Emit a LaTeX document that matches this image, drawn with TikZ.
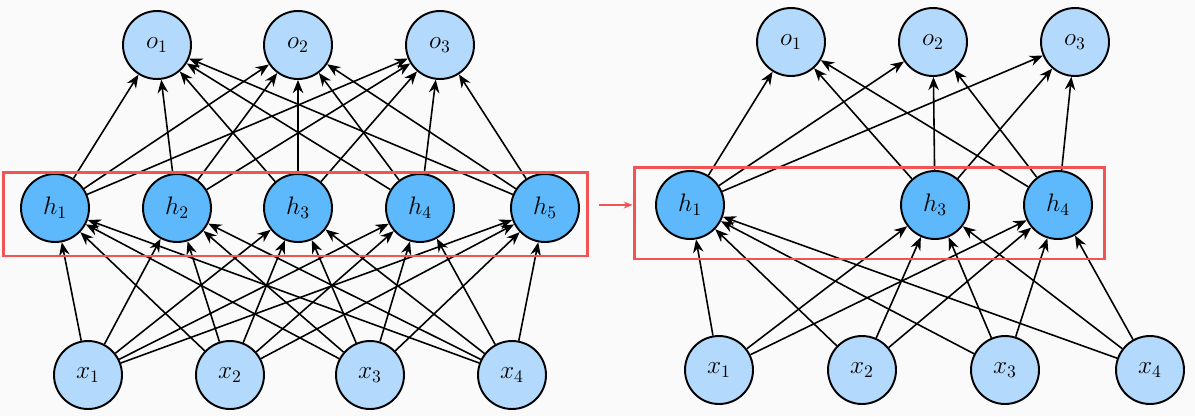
\documentclass[tikz,border=0pt]{standalone}
\usetikzlibrary{arrows.meta}

\definecolor{paper}{HTML}{FAFAFA}
\definecolor{lightunit}{HTML}{B3DAFD}
\definecolor{darkunit}{HTML}{5DB9FC}
\definecolor{dropred}{HTML}{F25454}

\tikzset{
    unit/.style={circle, draw, line width=1.1pt, minimum size=1.36cm, inner sep=0pt,
        font=\fontsize{14.5}{17}\selectfont},
    inout/.style={unit, fill=lightunit},
    hidden/.style={unit, fill=darkunit},
    conn/.style={-{Stealth[length=7.5pt,width=6pt]}, line width=0.9pt},
    selbox/.style={draw=dropred, line width=1.7pt, inner sep=0pt},
    droparrow/.style={dropred, line width=0.7pt, -{Stealth[length=5pt,width=4pt]}}
}

\begin{document}
\begin{tikzpicture}[x=0.02cm, y=-0.02cm]
    \fill[paper] (0,0) rectangle (1195,416);
    \useasboundingbox (0,0) rectangle (1195,416);

    % Full network
    \foreach \i/\x in {1/157, 2/298, 3/440}
        \node[inout] (lo\i) at (\x,45) {$o_\i$};
    \foreach \i/\x in {1/55, 2/177, 3/298, 4/420, 5/545}
        \node[hidden] (lh\i) at (\x,208) {$h_\i$};
    \foreach \i/\x in {1/88, 2/230, 3/370, 4/512}
        \node[inout] (lx\i) at (\x,375) {$x_\i$};

    \foreach \i in {1,...,4}
        \foreach \j in {1,...,5}
            \draw[conn] (lx\i) -- (lh\j);
    \foreach \j in {1,...,5}
        \foreach \k in {1,2,3}
            \draw[conn] (lh\j) -- (lo\k);

    \node[selbox, minimum width=11.7cm, minimum height=1.68cm] (lbox) at (295.5,214) {};

    % Network with dropout
    \foreach \i/\x in {1/791, 2/933, 3/1075}
        \node[inout] (ro\i) at (\x,42) {$o_\i$};
    \foreach \i/\x in {1/690, 3/935, 4/1058}
        \node[hidden] (rh\i) at (\x,205) {$h_\i$};
    \foreach \i/\x in {1/719, 2/862, 3/1005, 4/1150}
        \node[inout] (rx\i) at (\x,370) {$x_\i$};

    \foreach \i in {1,...,4}
        \foreach \j in {1,3,4}
            \draw[conn] (rx\i) -- (rh\j);
    \foreach \j in {1,3,4}
        \foreach \k in {1,2,3}
            \draw[conn] (rh\j) -- (ro\k);

    \node[selbox, minimum width=9.42cm, minimum height=1.84cm] (rbox) at (869.5,213) {};

    \draw[droparrow] ([xshift=0.2cm]lbox.east |- rh1) -- (rbox.west |- rh1);
\end{tikzpicture}
\end{document}
